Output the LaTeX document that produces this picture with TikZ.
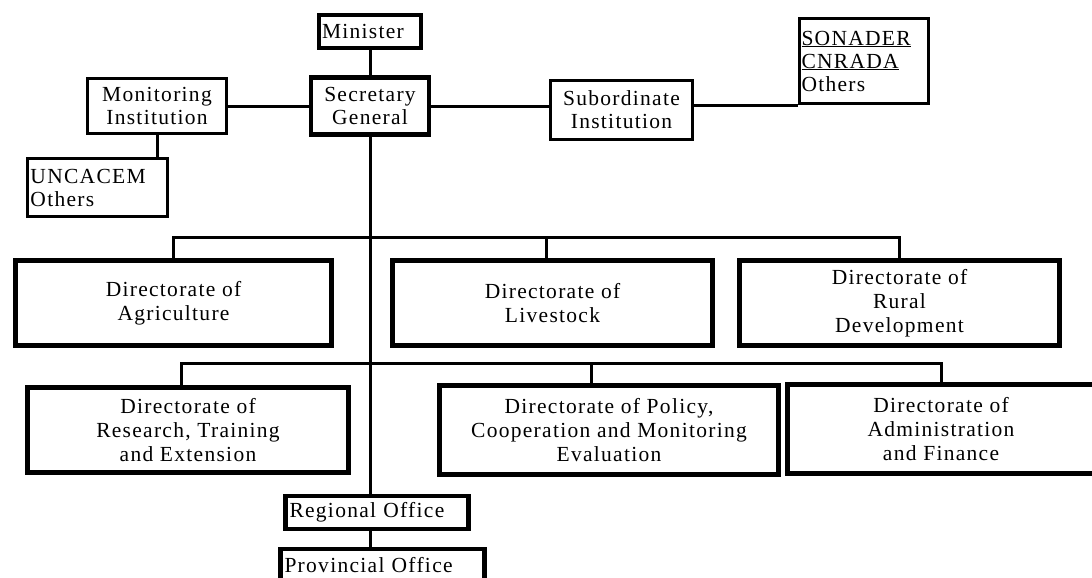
\documentclass[tikz,border=0pt]{standalone}
\usepackage{fontspec}
\setmainfont{Liberation Serif}[LetterSpace=6]
\usetikzlibrary{calc}
\begin{document}
\begin{tikzpicture}[x=1pt,y=-1pt,
  conn/.style={line width=3pt},
  heavy/.style={draw, line width=4.8pt, inner sep=0pt, align=center,
    font=\fontsize{21.5}{23}\selectfont},
  light/.style={draw, line width=3.2pt, inner sep=0pt, align=center,
    font=\fontsize{21.5}{23}\selectfont},
  dirbox/.style={heavy, font=\fontsize{21.5}{24}\selectfont},
  leftset/.style={inner xsep=5pt, text width=#1, align=left},
]
% page
\fill[white] (0,0) rectangle (1092,578);
\useasboundingbox (0,0) rectangle (1092,578);

% top level
\node[heavy, leftset=96pt, minimum height=33pt, inner xsep=3pt] (min) at (370,31.5) {Minister};
\node[heavy, minimum width=118pt, minimum height=57pt] (sg) at (370,106) {Secretary\\General};
\node[light, minimum width=139pt, minimum height=55pt] (mon) at (157,106) {Monitoring\\Institution};
\node[light, leftset=134pt, minimum height=58pt, inner xsep=3pt] (unc) at (97.5,187.5) {UNCACEM\\Others};
\node[light, minimum width=142pt, minimum height=59pt] (sub) at (621.5,110) {Subordinate\\Institution};
\node[light, leftset=125pt, minimum height=85pt, inner xsep=2pt] (son) at (864,61)
  {\underline{SONADER}\\\underline{CNRADA}\\Others};

% directorates, first row
\node[dirbox, minimum width=316pt, minimum height=85pt] (agri) at (173.5,303) {Directorate of\\Agriculture};
\node[dirbox, minimum width=320pt, minimum height=85pt] (live) at (552.5,303) {Directorate of\\Livestock};
\node[dirbox, minimum width=320pt, minimum height=85pt] (rur) at (899.5,303) {Directorate of\\Rural\\Development};

% directorates, second row
\node[dirbox, minimum width=321pt, minimum height=85pt] (res) at (188,430) {Directorate of\\Research, Training\\and Extension};
\node[dirbox, minimum width=339pt, minimum height=89pt] (pol) at (609,430) {Directorate of Policy,\\Cooperation and Monitoring\\Evaluation};
\node[dirbox, minimum width=307pt, minimum height=89pt] (adm) at (941,429) {Directorate of\\Administration\\and Finance};

% field offices
\node[heavy, leftset=175pt, minimum height=33pt, inner xsep=4pt] (reg) at (377,512.5) {Regional Office};
\node[heavy, leftset=196pt, minimum height=33pt, inner xsep=4pt] (prov) at (382.5,565.5) {Provincial Office};

% bus lines
\coordinate (busA) at (0,237);
\coordinate (busB) at (0,363);
\coordinate (liveDrop) at ($(live.north west)!0.48!(live.north east)$);
\coordinate (polDrop) at ($(pol.north west)!0.45!(pol.north east)$);
\coordinate (resDrop) at ($(res.north west)!0.48!(res.north east)$);

% connectors
\draw[conn] (min.south) -- (sg.north);
\draw[conn] (mon.east |- sg.west) -- (sg.west);
\draw[conn] (mon.south) -- (unc.north -| mon.south);
\draw[conn] (sg.east) -- (sg.east -| sub.west);
\draw[conn] (son.south west -| sub.east) -- (son.south west);
\draw[conn] (sg.south) -- (sg.south |- reg.north);
\draw[conn] (sg.south |- reg.south) -- (sg.south |- prov.north);

\draw[conn] (agri.north) -- (agri.north |- busA) -- (rur.north |- busA) -- (rur.north);
\draw[conn] (liveDrop) -- (liveDrop |- busA);
\draw[conn] (resDrop) -- (resDrop |- busB) -- (adm.north |- busB) -- (adm.north);
\draw[conn] (polDrop) -- (polDrop |- busB);
\end{tikzpicture}
\end{document}
